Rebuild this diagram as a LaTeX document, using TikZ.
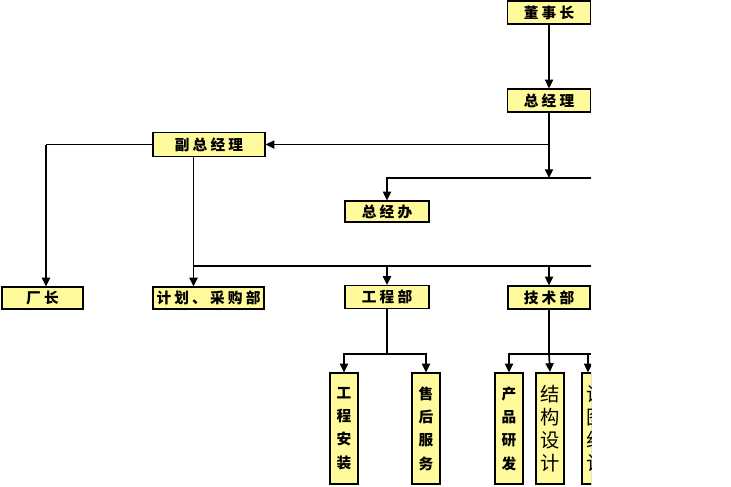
\documentclass[tikz,border=0pt]{standalone}
\usepackage{fontspec}
\setmainfont{Noto Sans CJK SC}
\usetikzlibrary{arrows.meta,shadows}
\definecolor{boxfill}{RGB}{255,250,155}
\newcommand\gp{\hspace{2.4pt}}
\tikzset{
 box/.style={draw=black, line width=0.9pt, fill=boxfill, inner sep=0pt,
   font=\fontsize{11}{12}\selectfont\bfseries,
   drop shadow={shadow xshift=0.7pt,shadow yshift=-0.7pt,opacity=1,fill=black}},
 vbox/.style={box, align=center, minimum width=28*0.75pt, minimum height=111*0.75pt,
   font=\fontsize{11}{17.5}\selectfont\bfseries},
 lightbox/.style={vbox, font=\fontsize{14.5}{17.3}\selectfont\mdseries},
 conn/.style={line width=1.3pt},
 arr/.style={conn, -{Triangle[length=6.5pt,width=6pt]}},
}
\begin{document}
\begin{tikzpicture}[x=0.75pt,y=-0.75pt]
\useasboundingbox (0,0) rectangle (731,486);
\begin{scope}
\clip (0,0) rectangle (591,486);
% boxes
\node[box, minimum width=83*0.75pt, minimum height=23*0.75pt] (dsz) at (549,12.5) {董\gp{}事\gp{}长};
\node[box, minimum width=83*0.75pt, minimum height=23*0.75pt] (zjl) at (549,100.5) {总\gp{}经\gp{}理};
\node[box, minimum width=112*0.75pt, minimum height=24*0.75pt] (fzjl) at (209,144.5) {副\gp{}总\gp{}经\gp{}理};
\node[box, minimum width=84*0.75pt, minimum height=21*0.75pt] (zjb) at (387,211.5) {总\gp{}经\gp{}办};
\node[box, minimum width=84*0.75pt, minimum height=23*0.75pt] (gcb) at (387,297) {工\gp{}程\gp{}部};
\node[box, minimum width=82*0.75pt, minimum height=23*0.75pt] (jsb) at (549,297.5) {技\gp{}术\gp{}部};
\node[box, minimum width=111*0.75pt, minimum height=22*0.75pt] (jh) at (208.5,298) {计\gp{}划\gp{}、\gp{}采\gp{}购\gp{}部};
\node[box, minimum width=81*0.75pt, minimum height=22*0.75pt] (cz) at (42.5,298) {厂\gp{}长};
\node[vbox] (gcaz) at (344,428.5) {工\\程\\安\\装};
\node[vbox] (shfw) at (426,428.5) {售\\后\\服\\务};
\node[vbox] (cpyf) at (509,428.5) {产\\品\\研\\发};
\node[lightbox, line width=1.6pt] (jgsj) at (550,428.5) {结\\构\\设\\计};
\node[lightbox] (sjz) at (596,428.5) {设\\图\\组\\计};
% connectors
\draw[arr] (dsz.south) -- (zjl.north);
\coordinate (j1) at (549,178);
\draw[arr] (zjl.south) -- (j1);
\draw[arr] (zjl.south |- fzjl.east) -- (fzjl.east);
\coordinate (r1) at (591,178);
\draw[arr] (r1) -| (zjb.north);
\coordinate (cl) at (46,144.5);
\draw[conn] (fzjl.west) -- (cl);
\draw[arr] (cl) -- (cl |- cz.north);
\coordinate (r2) at (591,266);
\coordinate (fd) at (193.5,157);
\draw[conn] (r2) -- (fd |- r2);
\draw[arr] (fd) -- (fd |- jh.north);
\draw[arr] (gcb.north |- r2) -- (gcb.north);
\draw[arr] (jsb.north |- r2) -- (jsb.north);
\coordinate (b1) at (387,354);
\draw[conn] (gcb.south) -- (b1);
\draw[arr] (b1) -| (gcaz.north);
\draw[arr] (b1) -| (shfw.north);
\coordinate (b2) at (549,354);
\coordinate (b3) at (588,354);
\coordinate (r3) at (591,354);
\draw[conn] (jsb.south) -- (b2);
\draw[conn] (b2) -- (r3);
\draw[arr] (b2) -| (cpyf.north);
\draw[arr] (b2) -- (jgsj.north);
\draw[arr] (b3) -- (b3 |- sjz.north);
\end{scope}
\end{tikzpicture}
\end{document}
